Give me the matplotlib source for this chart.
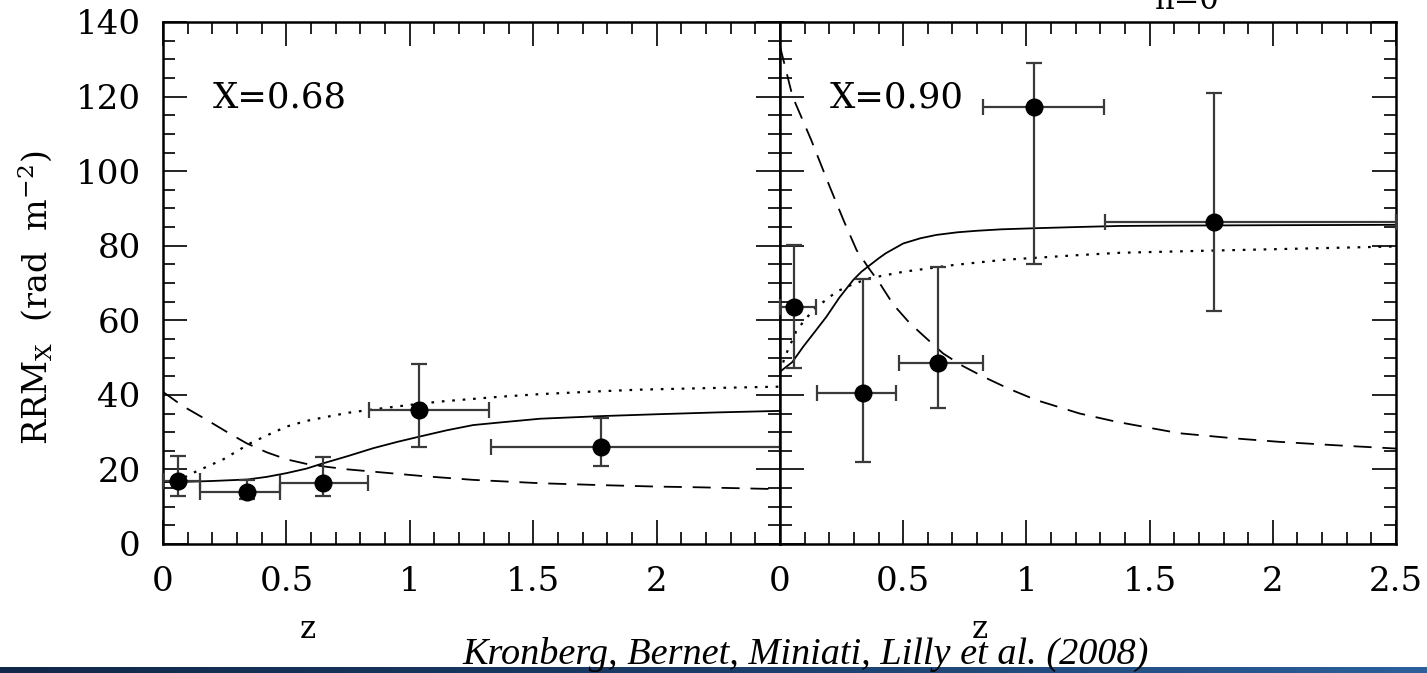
import matplotlib.pyplot as plt
import numpy as np
from matplotlib.ticker import MultipleLocator
from matplotlib.colors import LinearSegmentedColormap

plt.rcParams['font.family'] = 'DejaVu Serif'

# --- data ---
# X = 0.68 panel
z68 = [0.062, 0.342, 0.647, 1.039, 1.775]
rrm68 = [17.0, 14.0, 16.4, 35.9, 26.1]
zlo68 = [0.0, 0.150, 0.474, 0.836, 1.329]
zhi68 = [0.150, 0.474, 0.832, 1.322, 2.5]
rlo68 = [12.9, 12.2, 12.9, 26.1, 20.9]
rhi68 = [23.7, 17.2, 23.2, 48.3, 33.9]

solid68_z = [0.0, 0.1, 0.2, 0.342, 0.42, 0.5, 0.58, 0.647, 0.75, 0.852, 0.95, 1.039,
             1.15, 1.257, 1.366, 1.528, 1.775, 2.0, 2.25, 2.5]
solid68_r = [16.6, 16.7, 16.9, 17.3, 18.0, 19.0, 20.2, 21.6, 23.6, 25.7, 27.4, 28.8,
             30.5, 31.9, 32.6, 33.6, 34.3, 34.8, 35.3, 35.7]
dot68_z = [0.05, 0.123, 0.18, 0.244, 0.3, 0.353, 0.43, 0.501, 0.58, 0.663, 0.75, 0.852,
           1.0, 1.122, 1.366, 1.528, 1.75, 1.933, 2.2, 2.5]
dot68_r = [16.6, 19.1, 20.8, 22.7, 24.9, 27.0, 29.4, 31.5, 33.0, 34.1, 35.2, 36.1,
           37.3, 38.2, 39.5, 40.2, 40.9, 41.4, 41.8, 42.2]
dash68_z = [0.0, 0.08, 0.177, 0.26, 0.339, 0.42, 0.501, 0.58, 0.663, 0.75, 0.852, 1.055,
            1.257, 1.528, 1.771, 2.0, 2.176, 2.5]
dash68_r = [40.8, 37.0, 33.3, 30.0, 27.0, 24.6, 22.7, 21.5, 20.7, 20.0, 19.4, 18.2,
            17.2, 16.3, 15.8, 15.4, 15.2, 14.7]

# X = 0.90 panel
z90 = [0.057, 0.335, 0.642, 1.029, 1.761]
rrm90 = [63.6, 40.4, 48.6, 117.3, 86.4]
zlo90 = [0.0, 0.149, 0.482, 0.825, 1.32]
zhi90 = [0.145, 0.470, 0.824, 1.316, 2.5]
rlo90 = [47.3, 21.9, 36.4, 75.1, 62.6]
rhi90 = [80.3, 71.1, 74.4, 128.9, 120.9]

solid90_z = [0.0, 0.05, 0.094, 0.14, 0.189, 0.24, 0.297, 0.33, 0.365, 0.4, 0.43, 0.5,
             0.57, 0.635, 0.72, 0.797, 0.9, 1.04, 1.2, 1.378, 1.6, 2.0, 2.5]
solid90_r = [46.2, 48.8, 52.9, 56.8, 61.0, 66.0, 70.8, 73.0, 74.8, 76.6, 78.0, 80.6,
             82.0, 82.9, 83.6, 84.0, 84.4, 84.7, 85.0, 85.3, 85.4, 85.5, 85.6]
dot90_z = [0.0, 0.02, 0.068, 0.135, 0.23, 0.3, 0.365, 0.5, 0.702, 0.905, 1.216, 1.378,
           1.756, 2.1, 2.43, 2.5]
dot90_r = [46.0, 50.2, 57.4, 62.8, 67.7, 69.8, 71.3, 73.0, 74.8, 76.2, 77.5, 78.1,
           78.7, 79.2, 79.7, 79.8]
dash90_z = [0.0, 0.051, 0.127, 0.202, 0.26, 0.311, 0.36, 0.405, 0.46, 0.527, 0.6, 0.662,
            0.74, 0.824, 0.93, 1.04, 1.216, 1.364, 1.621, 1.85, 2.026, 2.25, 2.5]
dash90_r = [133.5, 120.0, 108.3, 95.8, 86.5, 78.8, 74.0, 69.9, 64.2, 59.2, 54.8, 51.1,
            47.8, 44.9, 41.6, 38.6, 35.0, 32.8, 29.7, 28.3, 27.4, 26.5, 25.6]

labels = ['X=0.68', 'X=0.90']
xticks_left = [0, 0.5, 1, 1.5, 2]
xticks_right = [0, 0.5, 1, 1.5, 2, 2.5]
yticks = [0, 20, 40, 60, 80, 100, 120, 140]

W, H = 1427, 673
fig = plt.figure(figsize=(W / 100, H / 100), dpi=100)

ax1 = fig.add_axes([163 / W, 1 - 544 / H, 617 / W, 522 / H])
ax2 = fig.add_axes([780 / W, 1 - 544 / H, 616 / W, 522 / H])

panels = [
    (ax1, z68, rrm68, zlo68, zhi68, rlo68, rhi68, solid68_z, solid68_r, dot68_z, dot68_r,
     dash68_z, dash68_r, labels[0], xticks_left),
    (ax2, z90, rrm90, zlo90, zhi90, rlo90, rhi90, solid90_z, solid90_r, dot90_z, dot90_r,
     dash90_z, dash90_r, labels[1], xticks_right),
]

for (ax, z, r, zlo, zhi, rlo, rhi, sz, sr, dz, dr, qz, qr, lab, xt) in panels:
    z = np.array(z); r = np.array(r)
    xerr = [z - np.array(zlo), np.array(zhi) - z]
    yerr = [r - np.array(rlo), np.array(rhi) - r]
    ax.plot(sz, sr, color='black', lw=1.3, solid_capstyle='butt')
    ax.plot(dz, dr, color='black', lw=1.6, linestyle=(0, (1.2, 3.5)))
    ax.plot(qz, qr, color='black', lw=1.3, linestyle=(0, (10, 6)))
    ax.errorbar(z, r, xerr=xerr, yerr=yerr, fmt='o', color='black', ecolor='#3a3a3a',
                elinewidth=1.6, capsize=6, capthick=1.6, markersize=12, zorder=5,
                clip_on=False)
    ax.set_xlim(0, 2.5)
    ax.set_ylim(0, 140)
    ax.set_xticks(xt)
    ax.set_xticklabels([f'{v:g}' for v in xt])
    ax.xaxis.set_minor_locator(MultipleLocator(0.1))
    ax.set_yticks(yticks)
    ax.yaxis.set_minor_locator(MultipleLocator(5))
    ax.tick_params(which='both', direction='in', top=True, right=True, width=1.4,
                   color='#222222', labelsize=24.5, pad=16)
    ax.tick_params(which='major', length=17)
    ax.tick_params(which='minor', length=8.5)
    for s in ax.spines.values():
        s.set_linewidth(1.8)
    ax.text(0.08, 0.855, lab, transform=ax.transAxes, fontsize=25.5,
            ha='left', va='center')

ax2.tick_params(labelleft=False)

fig.text(35 / W, 1 - 298 / H, r'RRM$_{\mathrm{X}}$  (rad  m$^{-2}$)', rotation=90,
         ha='center', va='center', fontsize=24,
         math_fontfamily='dejavuserif')
fig.text(308 / W, 1 - 638 / H, 'z', ha='center', va='baseline', fontsize=22)
fig.text(980 / W, 1 - 638 / H, 'z', ha='center', va='baseline', fontsize=22)
fig.text(1187 / W, 1 - 9 / H, 'n=0', ha='center', va='baseline', fontsize=22)

# bottom band
band = fig.add_axes([0, 0, 1, 6 / H])
cmap = LinearSegmentedColormap.from_list('band', ['#10284a', '#1b3d68', '#2b5f9b'])
band.imshow(np.linspace(0, 1, 256)[None, :], aspect='auto', cmap=cmap,
            extent=[0, 1, 0, 1])
band.axis('off')

fig.text(806 / W, 1 - 664 / H, 'Kronberg, Bernet, Miniati, Lilly et al. (2008)',
         ha='center', va='baseline', fontsize=27.5, style='italic',
         family='Liberation Serif', zorder=10)

fig.savefig('out.png', dpi=100)
